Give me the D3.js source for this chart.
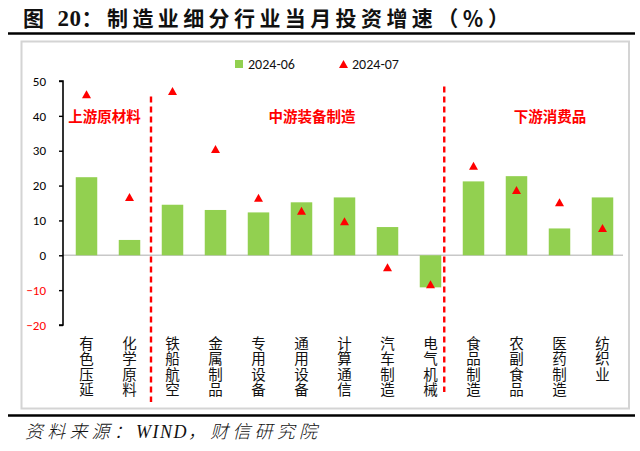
<!DOCTYPE html>
<html><head><meta charset="utf-8">
<script src="https://cdn.jsdelivr.net/npm/d3@7"></script>
<style>
html,body{margin:0;padding:0;background:#fff;}
svg{display:block;}
</style></head>
<body>
<svg id="chart" width="640" height="451"></svg>
<script>
// ---- data ----
const categories = ["有色压延","化学原料","铁船航空","金属制品","专用设备","通用设备","计算通信","汽车制造","电气机械","食品制造","农副食品","医药制造","纺织业"];
const series2024_06 = [22.4, 4.4, 14.5, 13.0, 12.3, 15.2, 16.6, 8.1, -9.2, 21.2, 22.7, 7.7, 16.6];
const series2024_07 = [46.2, 16.7, 47.1, 30.5, 16.5, 12.8, 9.8, -3.4, -8.3, 25.7, 18.7, 15.2, 7.8];
const seriesNames = ["2024-06", "2024-07"];
const yTicks = [-20, -10, 0, 10, 20, 30, 40, 50];
const sectionNames = ["上游原材料", "中游装备制造", "下游消费品"];
const titleText = ["图 ", "20", "：", "制造业细分行业当月投资增速（％）"];
const sourceText = ["资料来源：", "WIND", "，财信研究院"];

// ---- layout ----
const svg = d3.select("#chart");
const W = 640, H = 451;
const plotLeft = 63, plotRight = 623;
const green = "#92D050", red = "#FF0000";
const cjk = "'Noto Sans CJK SC', 'Noto Sans', sans-serif";
const latin = "Carlito, Lato, 'Open Sans', sans-serif";

svg.append("rect").attr("width", W).attr("height", H).attr("fill", "#fff");

// title
const title = svg.append("text").attr("x", 23).attr("y", 26)
  .attr("font-size", 21).attr("font-weight", 700).attr("fill", "#111")
  .attr("letter-spacing", 4.4).attr("font-family", cjk);
title.append("tspan").text(titleText[0]);
title.append("tspan").attr("font-family", "'Liberation Serif', serif").attr("font-size", 23)
  .attr("letter-spacing", 0.5).text(titleText[1]);
title.append("tspan").text(titleText[2]);
title.append("tspan").text(titleText[3]);

// top & bottom rules
svg.append("line").attr("x1", 8).attr("x2", 635).attr("y1", 33.5).attr("y2", 33.5)
  .attr("stroke", "#000").attr("stroke-width", 2.5);
svg.append("line").attr("x1", 8).attr("x2", 635).attr("y1", 415.5).attr("y2", 415.5)
  .attr("stroke", "#000").attr("stroke-width", 2.5);

// chart frame
svg.append("rect").attr("x", 21.5).attr("y", 41.5).attr("width", 607.5).attr("height", 367)
  .attr("fill", "none").attr("stroke", "#d4d4d4").attr("stroke-width", 2);

// scales
const x = d3.scaleBand().domain(categories).range([65, 624]).paddingInner(0.5).paddingOuter(0.25);
const y = d3.scaleLinear().domain([-20, 50]).range([325, 81]);

// zero line
svg.append("line").attr("x1", plotLeft).attr("x2", plotRight).attr("y1", y(0)).attr("y2", y(0))
  .attr("stroke", "#c8c8c8").attr("stroke-width", 1.5);

// y axis
const yAxis = d3.axisLeft(y).tickValues(yTicks).tickSize(4).tickPadding(13).tickFormat(d3.format("d"));
const gy = svg.append("g").attr("transform", `translate(${plotLeft},0)`).call(yAxis);
gy.select(".domain").attr("stroke", "#000").attr("stroke-width", 1.6).attr("d", `M-4,${y(50)}H0V${y(-20)}H-4`);
gy.selectAll(".tick line").attr("stroke", "#000").attr("stroke-width", 1.4);
gy.selectAll(".tick text").attr("font-family", latin).attr("font-size", 13)
  .attr("fill", d => d < 0 ? red : "#000");

// bars
svg.append("g").selectAll("rect").data(categories).join("rect")
  .attr("x", d => x(d)).attr("width", x.bandwidth())
  .attr("y", (d, i) => y(Math.max(0, series2024_06[i])))
  .attr("height", (d, i) => Math.abs(y(series2024_06[i]) - y(0)))
  .attr("fill", green);

// triangle markers
const tri = (cx, cy, hw, hh) => `M${cx},${cy - hh}L${cx + hw},${cy + hh}L${cx - hw},${cy + hh}Z`;
svg.append("g").selectAll("path").data(categories).join("path")
  .attr("d", (d, i) => tri(x(d) + x.bandwidth() / 2, y(series2024_07[i]), 4.5, 4))
  .attr("fill", red);

// section dividers
const step = x.step();
const dividers = [
  { xpos: x(categories[1]) + x.bandwidth() + step * 0.25, y1: 96.5, y2: 402 },
  { xpos: x(categories[8]) + x.bandwidth() + 3, y1: 86.5, y2: 392 }
];
svg.append("g").selectAll("line").data(dividers).join("line")
  .attr("x1", d => d.xpos).attr("x2", d => d.xpos).attr("y1", d => d.y1).attr("y2", d => d.y2)
  .attr("stroke", red).attr("stroke-width", 2.4).attr("stroke-dasharray", "6,4");

// section labels
const sectionX = [104.5, 312, 550];
svg.append("g").selectAll("text").data(sectionNames).join("text")
  .attr("x", (d, i) => sectionX[i]).attr("y", 122)
  .attr("text-anchor", "middle").attr("font-family", cjk).attr("font-weight", 700)
  .attr("font-size", 14.5).attr("fill", red).text(d => d);

// category labels (vertical text)
svg.append("g").selectAll("text").data(categories).join("text")
  .attr("x", d => x(d) + x.bandwidth() / 2).attr("y", 336)
  .style("writing-mode", "vertical-rl")
  .attr("letter-spacing", 1)
  .attr("font-family", cjk).attr("font-size", 14.5).attr("fill", "#111")
  .text(d => d);

// legend
const lg = svg.append("g").attr("font-family", latin).attr("font-size", 14).attr("fill", "#111");
lg.append("rect").attr("x", 235).attr("y", 60).attr("width", 8).attr("height", 8).attr("fill", green);
lg.append("text").attr("x", 248).attr("y", 69).text(seriesNames[0]);
lg.append("path").attr("d", tri(343.5, 64, 4.5, 4)).attr("fill", red);
lg.append("text").attr("x", 352).attr("y", 69).text(seriesNames[1]);

// source
const src = svg.append("text").attr("x", 25).attr("y", 438).attr("font-size", 18).attr("font-style", "italic")
  .attr("letter-spacing", 4.2)
  .attr("font-family", "'Noto Sans CJK SC', serif").attr("font-weight", 300).attr("fill", "#111");
src.append("tspan").text(sourceText[0]);
src.append("tspan").attr("font-family", "'Liberation Serif', serif").attr("font-weight", 400)
  .attr("letter-spacing", 1.5).text(sourceText[1]);
src.append("tspan").text(sourceText[2]);
</script>
</body></html>
